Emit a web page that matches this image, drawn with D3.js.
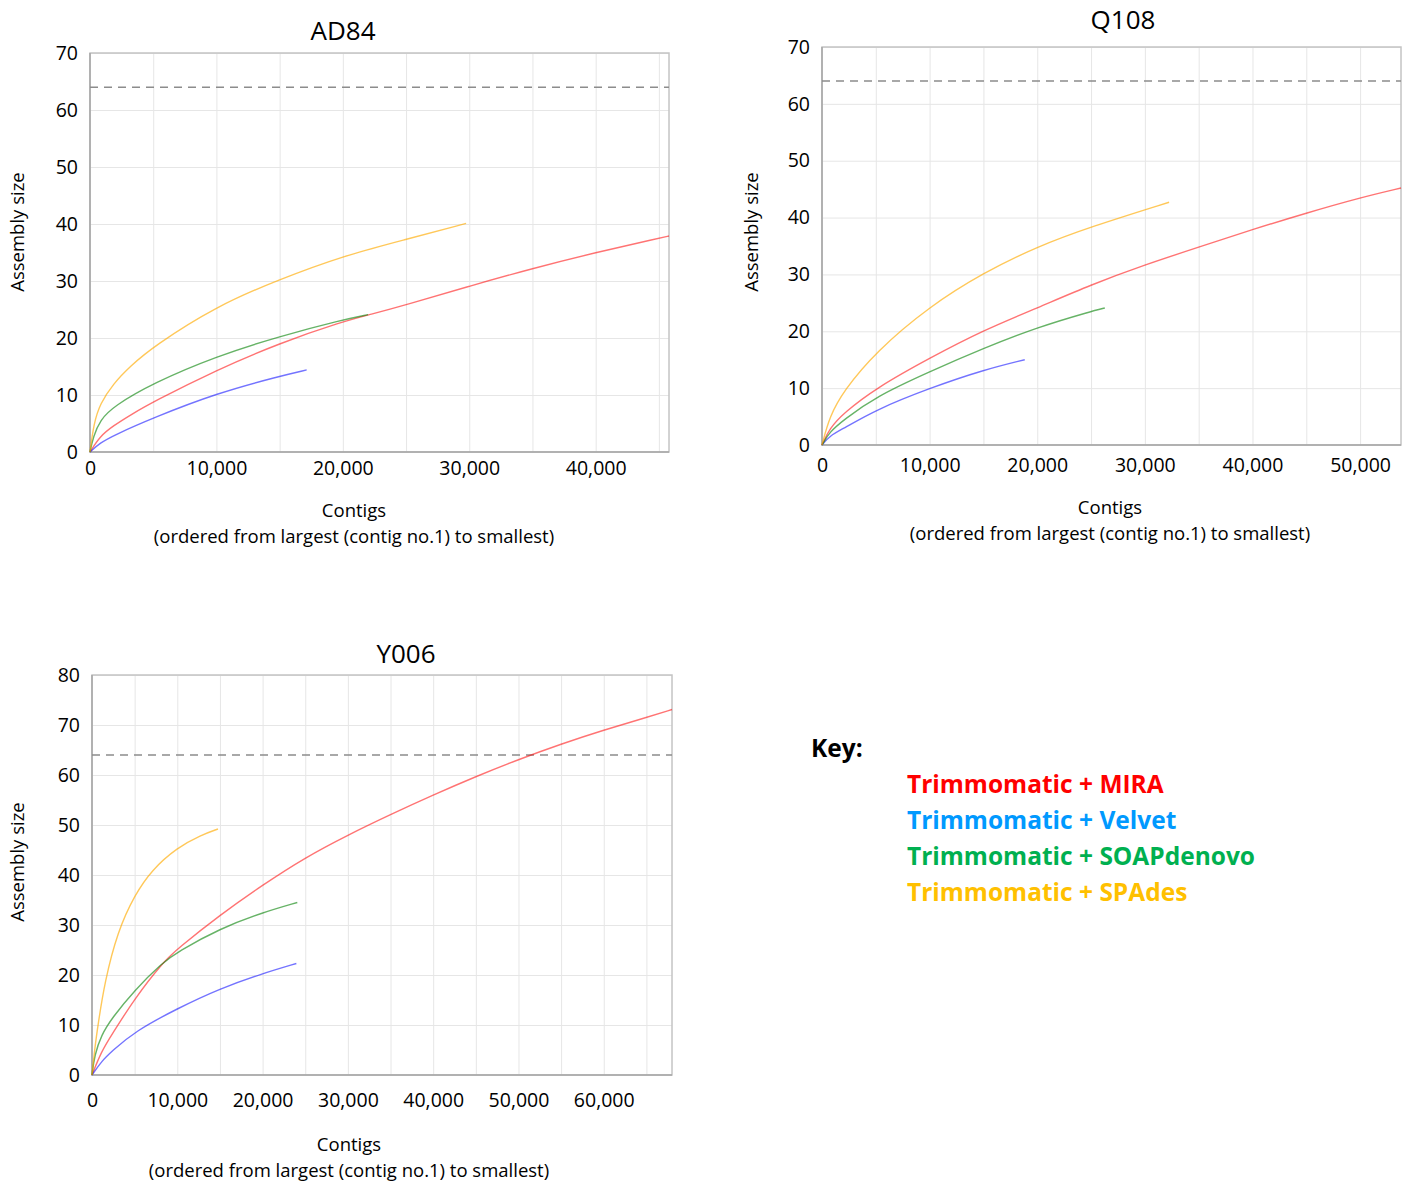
<!DOCTYPE html>
<html>
<head>
<meta charset="utf-8">
<script src="https://cdn.jsdelivr.net/npm/d3@7"></script>
<style>
  body { margin: 0; background: #fff; }
  svg text { font-family: "Open Sans", sans-serif; fill: #000; }
  .grid line { stroke: #e6e6e6; stroke-width: 1; }
</style>
</head>
<body>
<svg id="chart" width="1408" height="1183"></svg>
<script>
// [contig number, cumulative assembly size]
const AD84_MIRA = [[0,0],[800,2.8],[1850,4.6],[3200,6.5],[5000,8.8],[10000,14.4],[15000,19.1],[20000,22.9],[22150,24.1],[25000,25.8],[30000,29.1],[35000,32.2],[40000,35.0],[45000,37.5],[45800,37.9]];
const AD84_VELVET = [[0,0],[800,1.6],[1850,2.9],[5000,6.0],[10000,10.3],[15000,13.3],[17140,14.4]];
const AD84_SOAP = [[0,0],[260,2.7],[800,5.6],[1850,8.0],[5000,12.1],[10000,16.8],[15000,20.3],[20000,23.2],[22000,24.1]];
const AD84_SPADES = [[0,0],[300,5.0],[800,8.5],[1850,12.0],[3160,15.0],[5000,18.5],[10000,25.6],[15000,30.3],[20000,34.4],[25000,37.3],[29750,40.1]];

const Q108_MIRA = [[0,0],[700,2.9],[2000,5.6],[5000,10.0],[10000,15.3],[15000,20.2],[20000,24.1],[25000,28.2],[30000,31.7],[35000,34.8],[40000,37.9],[45000,40.8],[50000,43.5],[53800,45.2]];
const Q108_VELVET = [[0,0],[700,1.6],[2000,2.9],[5000,6.2],[10000,10.0],[15000,13.2],[18840,15.0]];
const Q108_SOAP = [[0,0],[700,2.3],[2000,4.4],[5000,8.5],[10000,12.9],[15000,17.0],[20000,20.7],[25000,23.5],[26280,24.1]];
const Q108_SPADES = [[0,0],[700,5.0],[2000,9.5],[5000,16.4],[10000,24.4],[15000,30.3],[20000,34.9],[25000,38.4],[32250,42.7]];

const Y006_MIRA = [[0,0],[1100,4.7],[2300,8.0],[5000,15.3],[8300,22.5],[10000,25.2],[15000,32.0],[20000,38.0],[25000,43.5],[30000,48.0],[35000,52.1],[40000,56.0],[45000,59.7],[50000,63.1],[55000,66.2],[60000,69.0],[65000,71.5],[68000,73.1]];
const Y006_VELVET = [[0,0],[1100,2.7],[2300,4.7],[5000,8.7],[10000,13.3],[15000,17.3],[20000,20.3],[23960,22.3]];
const Y006_SOAP = [[0,0],[300,4.0],[1100,8.0],[2300,11.3],[5000,17.0],[8300,22.5],[10000,24.6],[15000,29.3],[20000,32.5],[24070,34.5]];
const Y006_SPADES = [[0,0],[300,5.0],[700,10.0],[1500,18.7],[3000,28.7],[5000,36.0],[7000,41.0],[10000,45.5],[12800,48.0],[14770,49.2]];

const GENOME_LINE = 64;
const Y_TICKS_70 = [0, 10, 20, 30, 40, 50, 60, 70];
const Y_TICKS_80 = [0, 10, 20, 30, 40, 50, 60, 70, 80];
const AD84_X_TICKS = [0, 10000, 20000, 30000, 40000];
const Q108_X_TICKS = [0, 10000, 20000, 30000, 40000, 50000];
const Y006_X_TICKS = [0, 10000, 20000, 30000, 40000, 50000, 60000];

const KEY_LABELS = ["Trimmomatic + MIRA", "Trimmomatic + Velvet", "Trimmomatic + SOAPdenovo", "Trimmomatic + SPAdes"];
const KEY_COLORS = ["#ff0000", "#0099ff", "#00b050", "#ffc000"];
const LINE_COLORS = ["rgba(255,0,0,0.55)", "rgba(0,0,255,0.55)", "rgba(0,128,0,0.6)", "rgba(255,170,0,0.65)"];

const svg = d3.select("#chart");

function drawPanel(p) {
    const x = d3.scaleLinear().domain([0, p.xMax]).range([p.left, p.right]);
    const y = d3.scaleLinear().domain([0, p.yMax]).range([p.bottom, p.top]);
    const h = p.bottom - p.top, w = p.right - p.left;
    const g = svg.append("g");

    // grid
    g.append("g").attr("class", "grid")
        .attr("transform", `translate(0,${p.bottom})`)
        .call(d3.axisBottom(x).tickValues(d3.range(5000, p.xMax, 5000)).tickSize(-h).tickFormat(""))
        .call(a => a.select(".domain").remove());
    g.append("g").attr("class", "grid")
        .attr("transform", `translate(${p.left},0)`)
        .call(d3.axisLeft(y).tickValues(p.yTicks.slice(1)).tickSize(-w).tickFormat(""))
        .call(a => a.select(".domain").remove());

    // frame
    g.append("rect").attr("x", p.left).attr("y", p.top).attr("width", w).attr("height", h)
        .attr("fill", "none").attr("stroke", "#c4c4c4").attr("stroke-width", 1.5);
    g.append("path").attr("d", `M${p.left},${p.top}V${p.bottom}H${p.right}`)
        .attr("fill", "none").attr("stroke", "#a6a6a6").attr("stroke-width", 1.5);

    // genome size reference
    g.append("line")
        .attr("x1", p.left).attr("x2", p.right)
        .attr("y1", y(GENOME_LINE)).attr("y2", y(GENOME_LINE))
        .attr("stroke", "#8c8c8c").attr("stroke-width", 1.5).attr("stroke-dasharray", "8,6");

    const line = d3.line().x(d => x(d[0])).y(d => y(d[1])).curve(d3.curveBasis);
    p.series.forEach((s, i) => {
        g.append("path").datum(s)
            .attr("fill", "none")
            .attr("stroke", LINE_COLORS[i])
            .attr("stroke-width", 1.4)
            .attr("d", line);
    });

    // axes
    g.append("g")
        .attr("transform", `translate(${p.left},0)`)
        .call(d3.axisLeft(y).tickValues(p.yTicks).tickSize(0).tickPadding(12))
        .call(a => a.select(".domain").remove())
        .selectAll("text").style("font-size", "19.5px").attr("font-family", null);
    g.append("g")
        .attr("transform", `translate(0,${p.bottom})`)
        .call(d3.axisBottom(x).tickValues(p.xTicks).tickSize(0).tickPadding(p.xPad).tickFormat(d3.format(",")))
        .call(a => a.select(".domain").remove())
        .selectAll("text").style("font-size", "19.5px").attr("font-family", null);

    // titles
    g.append("text").attr("x", p.titleX).attr("y", p.titleY).attr("dy", "0.35em")
        .attr("text-anchor", "middle").style("font-size", "26px").text(p.title);
    g.append("text")
        .attr("transform", `translate(${p.yLabelX},${p.yLabelY}) rotate(-90)`)
        .attr("dy", "0.35em").attr("text-anchor", "middle").style("font-size", "18.5px")
        .text("Assembly size");
    g.append("text").attr("x", p.xLabelX).attr("y", p.xLabelY).attr("dy", "0.35em")
        .attr("text-anchor", "middle").style("font-size", "18.5px").text("Contigs");
    g.append("text").attr("x", p.xLabelX).attr("y", p.xLabelY + 26).attr("dy", "0.35em")
        .attr("text-anchor", "middle").style("font-size", "18.5px")
        .text("(ordered from largest (contig no.1) to smallest)");
}

drawPanel({
    title: "AD84", titleX: 343, titleY: 31,
    left: 90, right: 669, top: 53, bottom: 452,
    xMax: 45800, yMax: 70, yTicks: Y_TICKS_70, xTicks: AD84_X_TICKS, xPad: 9,
    yLabelX: 18, yLabelY: 232, xLabelX: 354, xLabelY: 511,
    series: [AD84_MIRA, AD84_VELVET, AD84_SOAP, AD84_SPADES]
});
drawPanel({
    title: "Q108", titleX: 1123, titleY: 20,
    left: 822, right: 1401, top: 47, bottom: 445,
    xMax: 53800, yMax: 70, yTicks: Y_TICKS_70, xTicks: Q108_X_TICKS, xPad: 13,
    yLabelX: 752, yLabelY: 232, xLabelX: 1110, xLabelY: 508,
    series: [Q108_MIRA, Q108_VELVET, Q108_SOAP, Q108_SPADES]
});
drawPanel({
    title: "Y006", titleX: 406, titleY: 654,
    left: 92, right: 672, top: 675, bottom: 1075,
    xMax: 68000, yMax: 80, yTicks: Y_TICKS_80, xTicks: Y006_X_TICKS, xPad: 18,
    yLabelX: 18, yLabelY: 862, xLabelX: 349, xLabelY: 1145,
    series: [Y006_MIRA, Y006_VELVET, Y006_SOAP, Y006_SPADES]
});

// key
svg.append("text").attr("x", 811).attr("y", 748).attr("dy", "0.35em")
    .style("font-size", "24.5px").style("font-weight", "bold").text("Key:");
KEY_LABELS.forEach((k, i) => {
    svg.append("text").attr("x", 907).attr("y", 784 + i * 36).attr("dy", "0.35em")
        .style("font-size", "24.5px").style("font-weight", "bold")
        .style("fill", KEY_COLORS[i]).text(k);
});
</script>
</body>
</html>
